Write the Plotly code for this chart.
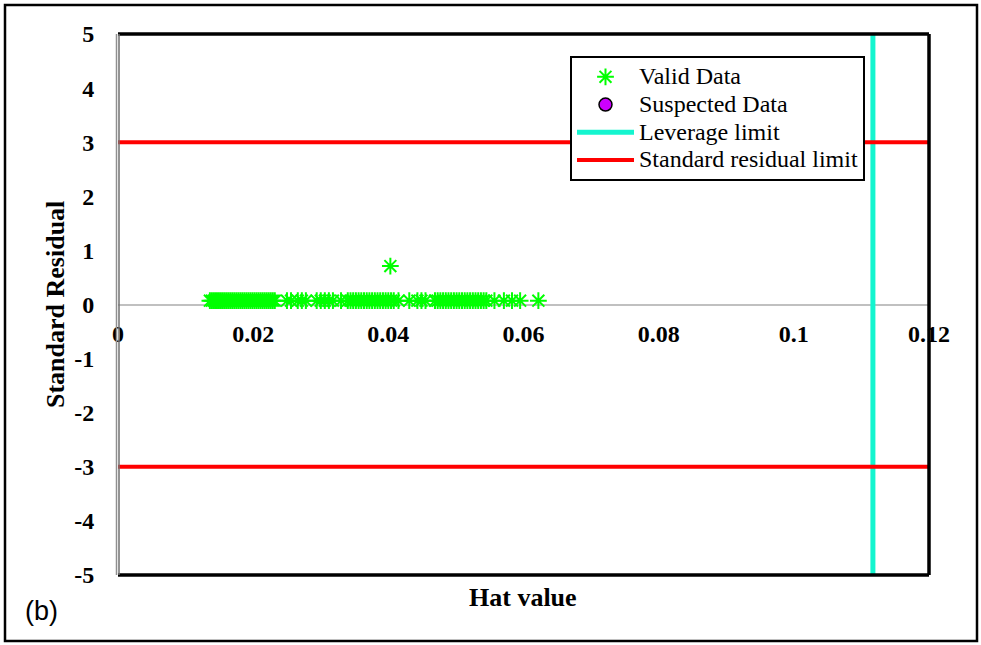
import plotly.graph_objects as go

# ---- data ----
hat_value = [
    0.0136, 0.0139, 0.0142, 0.0145, 0.0148, 0.0151, 0.0154, 0.0157, 0.0160, 0.0163, 0.0166,
    0.0169, 0.0172, 0.0175, 0.0178, 0.0181, 0.0184, 0.0187, 0.0190, 0.0193, 0.0196, 0.0199,
    0.0202, 0.0205, 0.0208, 0.0211, 0.0214, 0.0217, 0.0220, 0.0223, 0.0226, 0.0229, 0.0232,
    0.0250, 0.0256, 0.0266, 0.0272, 0.0278, 0.0294, 0.0300, 0.0306, 0.0312, 0.0318, 0.0330,
    0.0340, 0.0344, 0.0348, 0.0352, 0.0356, 0.0360, 0.0364, 0.0368, 0.0372, 0.0376, 0.0380,
    0.0384, 0.0388, 0.0392, 0.0396, 0.0400, 0.0404, 0.0408, 0.0415, 0.0431, 0.0443, 0.0449,
    0.0455, 0.0469, 0.0473, 0.0477, 0.0481, 0.0485, 0.0489, 0.0493, 0.0497, 0.0501, 0.0505,
    0.0509, 0.0513, 0.0517, 0.0521, 0.0525, 0.0529, 0.0533, 0.0537, 0.0541, 0.0545, 0.0557,
    0.0571, 0.0583, 0.0595, 0.0622, 0.0403,
]
std_residual = [
    0.07, 0.07, 0.07, 0.07, 0.07, 0.07, 0.07, 0.07, 0.07, 0.07, 0.07,
    0.07, 0.07, 0.07, 0.07, 0.07, 0.07, 0.07, 0.07, 0.07, 0.07, 0.07,
    0.07, 0.07, 0.07, 0.07, 0.07, 0.07, 0.07, 0.07, 0.07, 0.07, 0.07,
    0.07, 0.07, 0.07, 0.07, 0.07, 0.07, 0.07, 0.07, 0.07, 0.07, 0.07,
    0.07, 0.07, 0.07, 0.07, 0.07, 0.07, 0.07, 0.07, 0.07, 0.07, 0.07,
    0.07, 0.07, 0.07, 0.07, 0.07, 0.07, 0.07, 0.07, 0.07, 0.07, 0.07,
    0.07, 0.07, 0.07, 0.07, 0.07, 0.07, 0.07, 0.07, 0.07, 0.07, 0.07,
    0.07, 0.07, 0.07, 0.07, 0.07, 0.07, 0.07, 0.07, 0.07, 0.07, 0.07,
    0.07, 0.07, 0.07, 0.07, 0.71,
]
suspected_hat = [None]
suspected_res = [None]
leverage_limit = 0.1117
residual_limit = 3
x_range = [0, 0.12]
y_range = [-5, 5]
x_tickvals = [0, 0.02, 0.04, 0.06, 0.08, 0.1, 0.12]
x_ticktext = ["0", "0.02", "0.04", "0.06", "0.08", "0.1", "0.12"]
y_tickvals = [5, 4, 3, 2, 1, 0, -1, -2, -3, -4, -5]
y_ticktext = ["5", "4", "3", "2", "1", "0", "-1", "-2", "-3", "-4", "-5"]
series_names = ["Valid Data", "Suspected Data", "Leverage limit", "Standard residual limit"]

# ---- layout geometry (pixels) ----
W, H = 981, 645
L, R, T, B = 118, 929, 34, 575
PW, PH = R - L, B - T


def px(x):
    return (x - L) / PW


def py(y):
    return (B - y) / PH


def legend_label(s):
    return "<span style='font-size:24px'>%s</span>" % s


SERIF = "Liberation Serif"

fig = go.Figure()
fig.add_trace(go.Scatter(
    x=hat_value, y=std_residual, mode="markers", name=legend_label(series_names[0]),
    marker=dict(symbol="asterisk-open", size=14, color="#00FF00",
                line=dict(color="#00FF00", width=2)),
))
fig.add_trace(go.Scatter(
    x=suspected_hat, y=suspected_res, mode="markers", name=legend_label(series_names[1]),
    marker=dict(symbol="circle", size=13, color="#CC00FF",
                line=dict(color="black", width=1.5)),
))
fig.add_trace(go.Scatter(
    x=[leverage_limit, leverage_limit], y=y_range, mode="lines",
    name=legend_label(series_names[2]),
    line=dict(color="#14F5CF", width=5),
))
fig.add_trace(go.Scatter(
    x=[x_range[0], x_range[1], None, x_range[0], x_range[1]],
    y=[residual_limit, residual_limit, None, -residual_limit, -residual_limit],
    mode="lines", name=legend_label(series_names[3]),
    line=dict(color="#FF0000", width=4),
))

tickfont = dict(family=SERIF, size=24, color="black", weight="bold")

shapes = [
    # outer frame
    dict(type="rect", xref="paper", yref="paper", x0=px(5), x1=px(977), y0=py(641), y1=py(5),
         line=dict(color="black", width=2.5), fillcolor="rgba(0,0,0,0)", layer="above"),
    # plot borders
    dict(type="line", xref="paper", yref="paper", x0=0, x1=1, y0=1, y1=1,
         line=dict(color="black", width=3.5), layer="above"),
    dict(type="line", xref="paper", yref="paper", x0=1, x1=1, y0=0, y1=1,
         line=dict(color="black", width=3.5), layer="above"),
    dict(type="line", xref="paper", yref="paper", x0=0, x1=1, y0=0, y1=0,
         line=dict(color="black", width=3.5), layer="above"),
    dict(type="line", xref="paper", yref="paper", x0=px(116.5), x1=px(116.5), y0=0, y1=1,
         line=dict(color="#909090", width=1.5), layer="above"),
    dict(type="line", xref="paper", yref="paper", x0=px(119), x1=px(119), y0=0, y1=1,
         line=dict(color="#707070", width=1.5), layer="above"),
]

annotations = [
    dict(text="<b>Hat value</b>", xref="paper", yref="paper", x=px(523), y=py(597),
         showarrow=False, font=dict(family=SERIF, size=26, color="black"),
         xanchor="center", yanchor="middle"),
    dict(text="<b>Standard Residual</b>", xref="paper", yref="paper", x=px(55), y=py(305),
         showarrow=False, textangle=-90, font=dict(family=SERIF, size=26, color="black"),
         xanchor="center", yanchor="middle"),
    dict(text="(b)", xref="paper", yref="paper", x=px(41), y=py(611),
         showarrow=False, font=dict(family="Liberation Sans", size=27, color="black"),
         xanchor="center", yanchor="middle"),
]

fig.update_layout(
    width=W, height=H,
    margin=dict(l=L, r=W - R, t=T, b=H - B, pad=0),
    paper_bgcolor="white", plot_bgcolor="white",
    showlegend=True,
    legend=dict(
        x=px(570), y=py(56), xanchor="left", yanchor="top",
        bgcolor="white", bordercolor="black", borderwidth=2,
        font=dict(family=SERIF, size=19, color="black"),
        tracegroupgap=0, itemwidth=57,
    ),
    xaxis=dict(
        range=x_range, tickvals=x_tickvals, ticktext=x_ticktext,
        showgrid=False, zeroline=False, showline=False,
        anchor="free", position=py(304.5),
        ticks="outside", ticklen=8, tickcolor="rgba(0,0,0,0)",
        tickfont=tickfont,
    ),
    yaxis=dict(
        range=y_range, tickvals=y_tickvals, ticktext=y_ticktext,
        showgrid=False, zeroline=True, zerolinecolor="#C0C0C0", zerolinewidth=2,
        showline=False,
        ticks="outside", ticklen=18, tickcolor="rgba(0,0,0,0)",
        tickfont=tickfont,
    ),
    shapes=shapes,
    annotations=annotations,
)

fig.write_html("out.html")
